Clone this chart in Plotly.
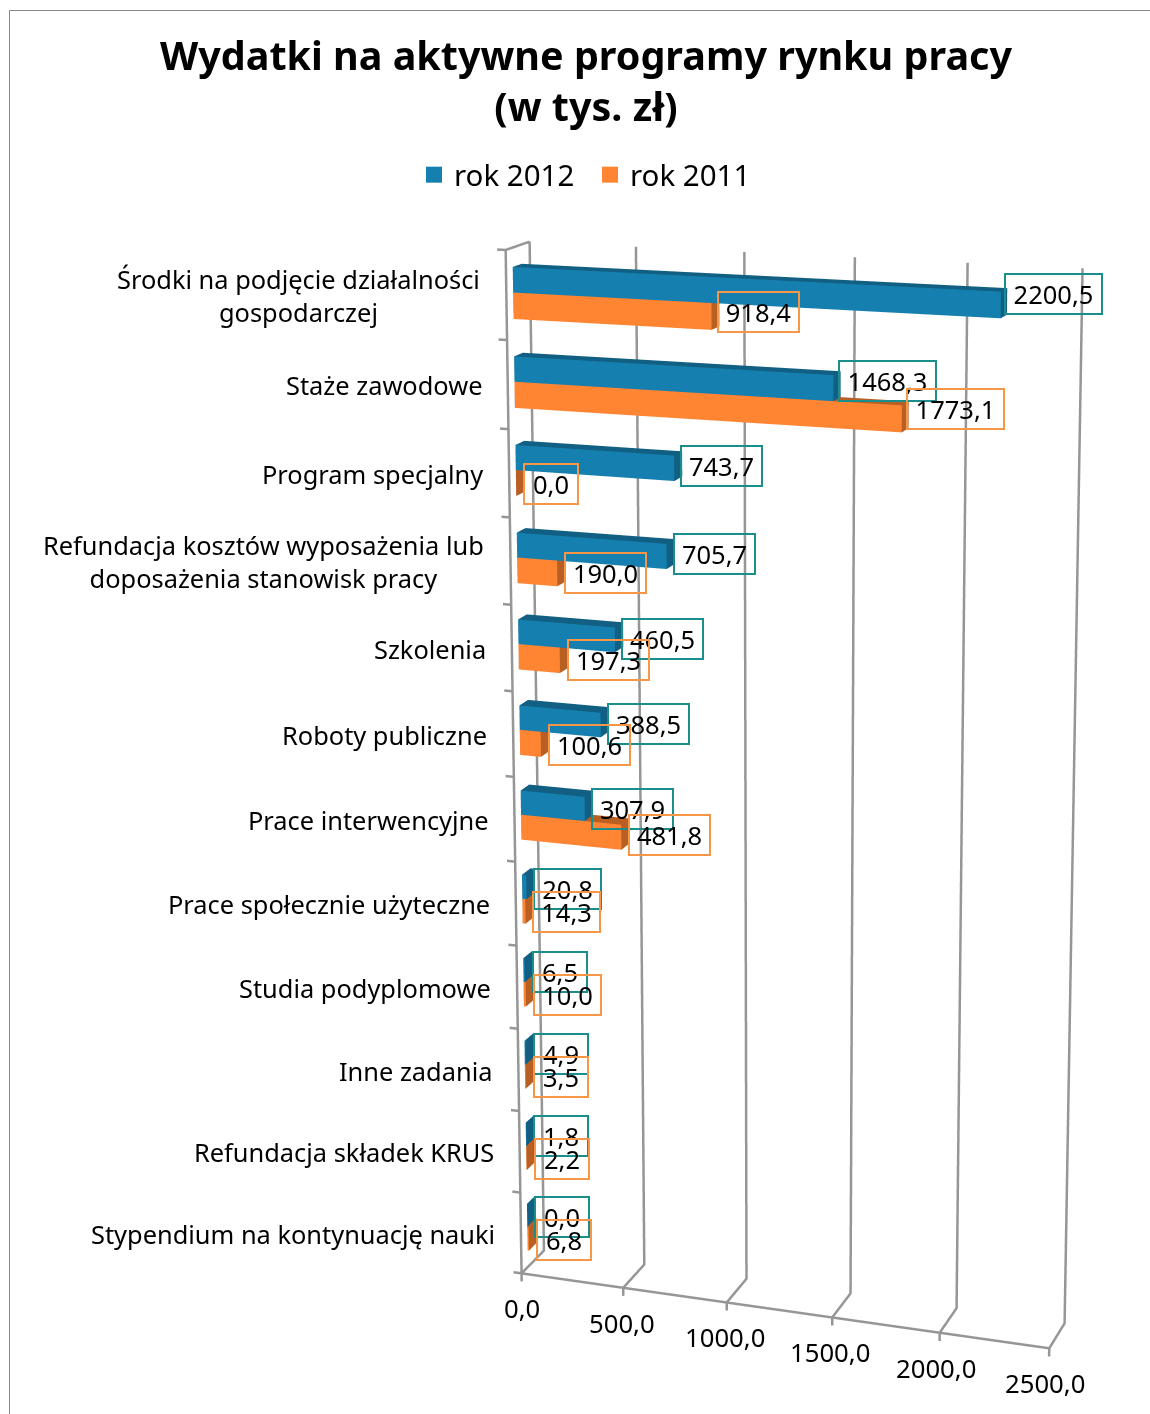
import numpy as np
import plotly.graph_objects as go

categories = ["Środki na podjęcie działalności<br>gospodarczej", "Staże zawodowe", "Program specjalny",
              "Refundacja kosztów wyposażenia lub<br>doposażenia stanowisk pracy", "Szkolenia", "Roboty publiczne",
              "Prace interwencyjne", "Prace społecznie użyteczne", "Studia podyplomowe", "Inne zadania",
              "Refundacja składek KRUS", "Stypendium na kontynuację nauki"]
rok_2012 = [2200.5, 1468.3, 743.7, 705.7, 460.5, 388.5, 307.9, 20.8, 6.5, 4.9, 1.8, 0.0]
rok_2011 = [918.4, 1773.1, 0.0, 190.0, 197.3, 100.6, 481.8, 14.3, 10.0, 3.5, 2.2, 6.8]
x_ticks = [0, 500, 1000, 1500, 2000, 2500]
title = "Wydatki na aktywne programy rynku pracy<br>(w tys. zł)"

FONT = "Noto Sans"
GRAY = "#969696"
BLUE, BLUE_D = "#1580b0", "#115f82"
ORANGE, ORANGE_D = "#ff8533", "#b85f24"
BOX_B, BOX_O = "#1a8d8d", "#f79646"

# view geometry, page pixels
W, HF, TOP = 1562, 3066, -1037
R = np.array([.947, .321, 0.]); D = np.array([.0667, -.176, -.978]); F = np.array([-.313, .931, -.208])
dist, off_r, off_d = 6.54, .0105, .532
n = len(categories)
XMAX = x_ticks[-1]
XL, XH, ZL, ZH, YP = -40, XMAX + 12, -.1, n + .06, .03   # room outside the box for tick marks and edge lines
AX, AY, AZ = 1.011, .11, 1.918
shift = np.array([(XMAX / 2 - (XL + XH) / 2) * AX / XMAX, 0, (n / 2 - (ZL + ZH) / 2) * AZ / n])
c = -(off_r * R + off_d * D) + shift
e = c - dist * F

def px(x): return x / W
def py(y): return 1 - (y - TOP) / HF

Y0, Y1 = .28, .65
def bars(values, zlo, zhi, front, side, top, name):
    xs, ys, zs, I, J, K, FC = [], [], [], [], [], [], []
    quads = [((0, 1, 5, 4), front), ((1, 3, 7, 5), side), ((4, 5, 7, 6), top), ((0, 2, 3, 1), side), ((2, 6, 7, 3), side), ((0, 4, 6, 2), side)]
    for i, v in enumerate(values):
        b = len(xs)
        z0 = n - 1 - i + zlo; z1 = n - 1 - i + zhi
        for zz in (z0, z1):
            for yy in (Y0, Y1):
                for xx in (0, v):
                    xs.append(xx); ys.append(yy); zs.append(zz)
        for q, col in quads:
            I += [b + q[0], b + q[0]]; J += [b + q[1], b + q[2]]; K += [b + q[2], b + q[3]]; FC += [col, col]
    return go.Mesh3d(x=xs, y=ys, z=zs, i=I, j=J, k=K, facecolor=FC, flatshading=True, name=name, showlegend=False,
                     lighting=dict(ambient=1, diffuse=0, specular=0, fresnel=0), hoverinfo="skip")

fig = go.Figure()
fig.add_trace(bars(rok_2012, .5, .785, BLUE, BLUE_D, BLUE_D, "rok 2012"))
fig.add_trace(bars(rok_2011, .205, .5, ORANGE, ORANGE_D, ORANGE_D, "rok 2011"))
# frame, grid and tick marks
fx, fy, fz = [0, 0, 0], [0, 0, 1], [0, n, n]
for t in x_ticks:
    fx += [None, t, t, t, None, t, t]; fy += [None, 0, 1, 1, None, 0, 0]; fz += [None, 0, 0, n, None, 0, ZL]
for k in range(n + 1):
    fx += [None, 0, XL]; fy += [None, 0, 0]; fz += [None, k, k]
fx += [None, 0, XMAX]; fy += [None, 0, 0]; fz += [None, 0, 0]
fig.add_trace(go.Scatter3d(x=fx, y=fy, z=fz, mode="lines", line=dict(color=GRAY, width=5), showlegend=False, hoverinfo="skip", connectgaps=False))
for name, col in (("rok 2012", BLUE), ("rok 2011", ORANGE)):
    fig.add_trace(go.Scatter3d(x=[None], y=[None], z=[None], mode="markers", name=name, marker=dict(symbol="square", size=16, color=col)))

def fmt(v): return f"{v:.1f}".replace(".", ",")
ann = []
for i, lab in enumerate(categories):
    ann.append(dict(x=0, y=0, z=n - .5 - i, text=lab, showarrow=False, xanchor="right", yanchor="middle", align="center", xshift=-24, yshift=-.5,
                    font=dict(family=FONT, size=25.4, color="black")))
for t in x_ticks:
    ann.append(dict(x=t, y=0, z=0, text=fmt(t), showarrow=False, xanchor="center", yanchor="middle", yshift=-35.5, xshift=-.0018 * t,
                    font=dict(family=FONT, size=25.7, color="black")))
for vals, col, zc in ((rok_2012, BOX_B, .64), (rok_2011, BOX_O, .36)):
    for i, v in enumerate(vals):
        t = fmt(v)
        ann.append(dict(x=v, y=Y0, z=n - 1 - i + zc, text=t, showarrow=False, xanchor="left", yanchor="middle",
                        xshift=7 - .0015 * v, yshift=-1.5 + .006 * v,
                        width={3: 52, 4: 65, 5: 79, 6: 95}[len(t)], height=38, bordercolor=col, borderwidth=2, borderpad=0,
                        font=dict(family=FONT, size=25.5, color="black")))

axis_common = dict(showbackground=False, title="", zeroline=False, showspikes=False, showgrid=False, showline=False, showticklabels=False, ticks="")
fig.update_layout(
    width=W, height=HF, margin=dict(l=0, r=0, t=0, b=0), paper_bgcolor="white", separators=", ",
    title=dict(text=title, x=px(586), xanchor="center", y=py(70), yanchor="top", font=dict(family=FONT, size=39.5, color="black", weight="bold")),
    legend=dict(orientation="h", x=px(414), xanchor="left", y=py(175), yanchor="middle", font=dict(family=FONT, size=29.5, color="black"), itemsizing="trace", bgcolor="rgba(0,0,0,0)", entrywidth=131),
    shapes=[dict(type="rect", xref="paper", yref="paper", x0=px(9.5), x1=px(1300), y0=py(10.5), y1=py(1600), line=dict(color="#868686", width=1))],
    scene=dict(
        domain=dict(x=[0, 1], y=[0, 1]), aspectmode="manual",
        aspectratio=dict(x=AX * (XH - XL) / XMAX, y=AY * (1 + 2 * YP), z=AZ * (ZH - ZL) / n),
        camera=dict(eye=dict(x=e[0], y=e[1], z=e[2]), center=dict(x=c[0], y=c[1], z=c[2]), up=dict(x=0, y=0, z=1), projection=dict(type="perspective")),
        xaxis=dict(range=[XL, XH], **axis_common),
        yaxis=dict(range=[-YP, 1 + YP], **axis_common),
        zaxis=dict(range=[ZL, ZH], **axis_common),
        annotations=ann),
)
post = """var g=document.getElementById('{plot_id}');g.style.position='absolute';g.style.left='0px';g.style.top='%dpx';
document.body.style.margin='0';document.documentElement.style.overflow='hidden';document.body.style.overflow='hidden';""" % TOP
fig.write_html("out.html", post_script=post, config=dict(displayModeBar=False))
